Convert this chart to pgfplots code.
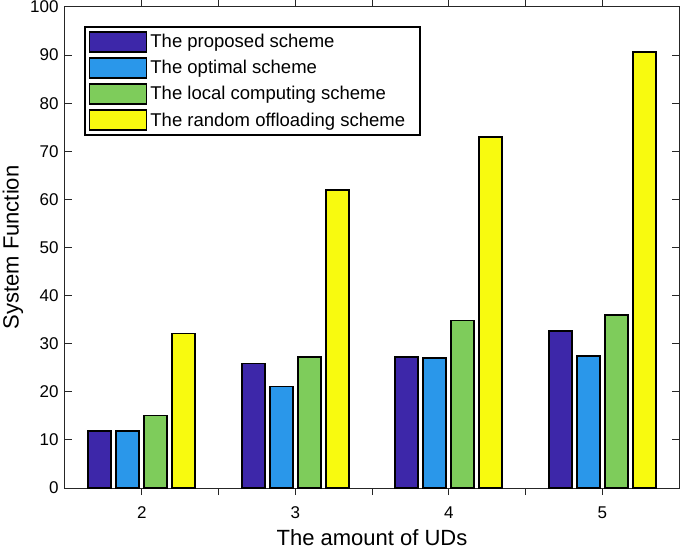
\documentclass[border=0pt]{standalone}
\usepackage{fontspec}
\setmainfont{Liberation Sans}
\usepackage{pgfplots}
\pgfplotsset{compat=1.18}
\definecolor{cProp}{HTML}{3D27A9}
\definecolor{cOpt}{HTML}{2A97EA}
\definecolor{cLoc}{HTML}{7ECC5B}
\definecolor{cRand}{HTML}{F8FA0F}
\definecolor{axc}{HTML}{262626}
\begin{document}
\begin{tikzpicture}
\begin{axis}[
  scale only axis,
  width=614pt, height=481pt,
  xmin=1.5, xmax=5.5, ymin=0, ymax=100,
  xtick={2,3,4,5},
  minor xtick={2.5,3.5,4.5},
  ytick={0,10,...,100},
  tick pos=both,
  tick align=inside,
  major tick length=7pt, minor tick length=7pt,
  tick style={axc, line width=1pt},
  minor tick style={axc, line width=1pt},
  axis line style={axc, line width=1pt},
  tick label style={font=\fontsize{17}{19}\selectfont, text=black},
  xticklabel style={yshift=-8pt},
  yticklabel style={xshift=-3pt},
  /pgf/number format/assume math mode=true,
  xlabel={The amount of UDs},
  ylabel={System Function},
  label style={font=\fontsize{22}{24}\selectfont},
  xlabel style={yshift=-6pt, inner ysep=1pt},
  ylabel style={yshift=0pt},
  ybar, bar width=0.15,
  legend cell align=left,
  legend style={at={(0.031,0.96)}, anchor=north west, draw=black, line width=1.6pt,
    font=\fontsize{18.5}{20}\selectfont, inner xsep=4pt, inner ysep=4pt,
    row sep=4.5pt, nodes={inner xsep=3pt, inner ysep=1pt}},
  legend image code/.code={\draw[#1, line width=1.6pt] (0pt,-10pt) rectangle (57pt,10pt);},
]
\addplot[draw=black, line width=1.7pt, fill=cProp, bar shift=-0.2736] coordinates {(2,11.8) (3,25.9) (4,27.2) (5,32.7)};
\addplot[draw=black, line width=1.7pt, fill=cOpt, bar shift=-0.0912] coordinates {(2,11.8) (3,21.1) (4,27.1) (5,27.5)};
\addplot[draw=black, line width=1.7pt, fill=cLoc, bar shift=0.0912] coordinates {(2,15.1) (3,27.2) (4,34.8) (5,35.9)};
\addplot[draw=black, line width=1.7pt, fill=cRand, bar shift=0.2736] coordinates {(2,32.1) (3,61.9) (4,73.0) (5,90.6)};
\legend{The proposed scheme, The optimal scheme, The local computing scheme, The random offloading scheme\rule{8pt}{0pt}}
\end{axis}
\pgfresetboundingbox
\useasboundingbox ([xshift=-65pt,yshift=-64pt]current axis.south west) rectangle ([xshift=6pt,yshift=7pt]current axis.north east);
\end{tikzpicture}
\end{document}
